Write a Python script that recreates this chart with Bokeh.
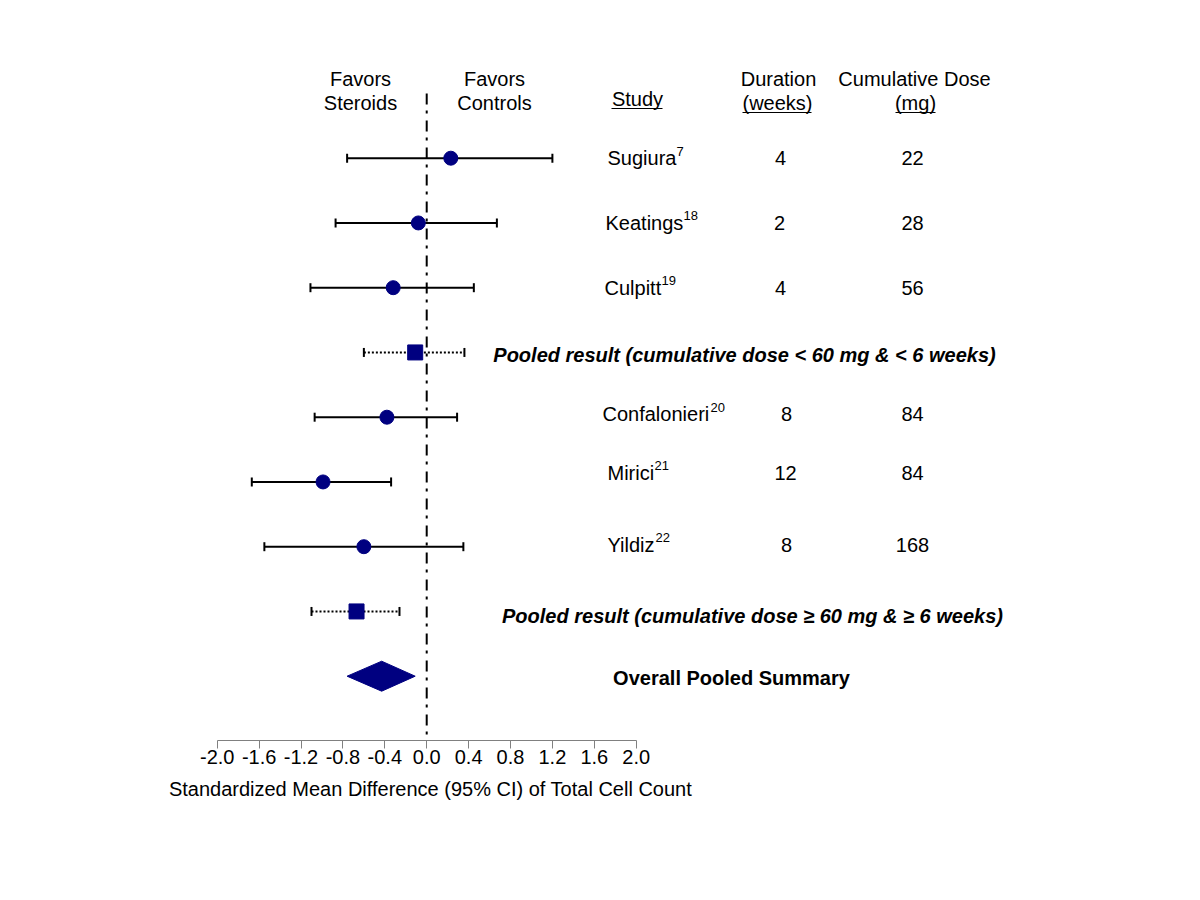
import math
from bokeh.plotting import figure
from bokeh.models import Range1d, FixedTicker, PrintfTickFormatter
from bokeh.core.properties import value
from bokeh.embed import file_html
from bokeh.resources import INLINE

# ---------------- data ----------------
studies = ["Sugiura", "Keatings", "Culpitt", "Confalonieri", "Mirici", "Yildiz"]
study_refs = ["7", "18", "19", "20", "21", "22"]
study_rows = [0, 1, 2, 4, 5, 6]
study_est = [0.23, -0.08, -0.32, -0.38, -0.99, -0.60]
study_lo = [-0.76, -0.87, -1.11, -1.07, -1.67, -1.55]
study_hi = [1.20, 0.67, 0.45, 0.29, -0.34, 0.35]
duration = ["4", "2", "4", "8", "12", "8"]
dose = ["22", "28", "56", "84", "84", "168"]

pooled_labels = ["Pooled result (cumulative dose < 60 mg & < 6 weeks)",
                 "Pooled result (cumulative dose \u2265 60 mg & \u2265 6 weeks)"]
pooled_rows = [3, 7]
pooled_est = [-0.11, -0.67]
pooled_lo = [-0.60, -1.10]
pooled_hi = [0.36, -0.26]

overall_label = "Overall Pooled Summary"
overall_row = 8
overall_est = -0.43
overall_lo = -0.76
overall_hi = -0.11

x_ticks = [-2.0, -1.6, -1.2, -0.8, -0.4, 0.0, 0.4, 0.8, 1.2, 1.6, 2.0]
axis_title = "Standardized Mean Difference (95% CI) of Total Cell Count"

# ---------------- layout (page pixels) ----------------
ROW_PX = 64.75
ROW0_PX = 157.7
FONT = value("Liberation Sans")
FS = value("20px")
NAVY = "#000080"
AXIS_ROW = 9.0

frame_left, frame_top, frame_w, frame_bottom = 112, 51, 995, 811


def row_of(px):
    return (px - ROW0_PX) / ROW_PX


p = figure(frame_width=frame_w, frame_height=frame_bottom - frame_top,
           x_range=Range1d(-3.0, 6.5),
           y_range=Range1d(row_of(frame_bottom), row_of(frame_top)),
           min_border_left=frame_left, min_border_top=frame_top,
           min_border_right=60, min_border_bottom=10,
           y_axis_location=None, toolbar_location=None, output_backend="svg",
           background_fill_color="white", border_fill_color="white")
p.outline_line_color = None
p.xgrid.visible = False
p.ygrid.visible = False
# pixel ranges for the text table
p.extra_x_ranges = {"px": Range1d(frame_left, frame_left + frame_w)}
p.extra_y_ranges = {"py": Range1d(frame_bottom, frame_top)}

ax = p.xaxis[0]
ax.fixed_location = AXIS_ROW
ax.bounds = (-2.0, 2.0)
ax.ticker = FixedTicker(ticks=x_ticks)
ax.formatter = PrintfTickFormatter(format="%.1f")
ax.axis_line_color = "#808080"
ax.axis_line_width = 1
ax.major_tick_line_color = "#808080"
ax.major_tick_in = 0
ax.major_tick_out = 8
ax.minor_tick_line_color = None
ax.major_label_text_font = "Liberation Sans"
ax.major_label_text_font_size = "20px"
ax.major_label_text_color = "black"
ax.major_label_standoff = 1

# vertical reference line at 0
p.segment(x0=[0], x1=[0], y0=[-1.0], y1=[AXIS_ROW], line_color="black",
          line_width=2, line_dash="11 6 3 7")

# study CIs
p.segment(x0=study_lo, x1=study_hi, y0=study_rows, y1=study_rows,
          line_color="black", line_width=2)
p.scatter(x=study_lo + study_hi, y=study_rows + study_rows, marker="dash",
          angle=math.pi / 2, size=9, line_color="black", line_width=2)
p.scatter(x=study_est, y=study_rows, marker="circle", size=14,
          fill_color=NAVY, line_color=NAVY)

# pooled CIs
p.segment(x0=pooled_lo, x1=pooled_hi, y0=pooled_rows, y1=pooled_rows,
          line_color="black", line_width=2, line_dash="2 2")
p.scatter(x=pooled_lo + pooled_hi, y=pooled_rows + pooled_rows, marker="dash",
          angle=math.pi / 2, size=9, line_color="black", line_width=2)
p.scatter(x=pooled_est, y=pooled_rows, marker="square", size=15,
          fill_color=NAVY, line_color=NAVY)

# overall diamond
h = 15 / ROW_PX
p.patch(x=[overall_lo, overall_est, overall_hi, overall_est],
        y=[overall_row, overall_row - h, overall_row, overall_row + h],
        fill_color=NAVY, line_color=NAVY)


# ---------------- texts ----------------
def txt(x, y, t, align="center", style="normal", size=FS):
    p.text(x=x, y=y, text=t, text_align=align, text_baseline="middle",
           text_font=FONT, text_font_size=size, text_font_style=style,
           text_color="black", x_range_name="px", y_range_name="py")


# headers
txt([360, 360, 494, 494], [78, 102, 78, 102],
    ["Favors", "Steroids", "Favors", "Controls"])
txt([637, 778, 777, 914, 915], [98, 78, 102, 78, 102],
    ["Study", "Duration", "(weeks)", "Cumulative Dose", "(mg)"])
p.segment(x0=[611, 742, 895], x1=[662, 811, 935], y0=[108, 112, 112],
          y1=[108, 112, 112], line_color="black", line_width=1.2,
          x_range_name="px", y_range_name="py")

# study rows (text y = row centre + small layout shift in px)
text_dy = [0, 0, 0, -3, -9, -2]
row_y = [ROW0_PX + ROW_PX * r + d for r, d in zip(study_rows, text_dy)]
name_x = [607, 605, 604, 602, 607, 607]
txt(name_x, row_y, studies, align="left")
sup_x = [676, 683, 661, 710, 654, 655]
txt(sup_x, [y - 7 for y in row_y], study_refs, align="left", size=value("13px"))
dur_x = [780, 779, 780, 786, 785, 786]
txt(dur_x, row_y, duration)
txt([912] * len(dose), row_y, dose)

# pooled labels
pool_x = [744, 752]
pool_y = [ROW0_PX + ROW_PX * r + d for r, d in zip(pooled_rows, [3, 5])]
txt(pool_x, pool_y, pooled_labels, style="bold italic")
txt([731], [ROW0_PX + ROW_PX * overall_row + 2], [overall_label], style="bold")

# x-axis title, centred under the -2..2 axis
txt([430], [788], [axis_title])

open("out.html", "w").write(file_html(p, INLINE))
